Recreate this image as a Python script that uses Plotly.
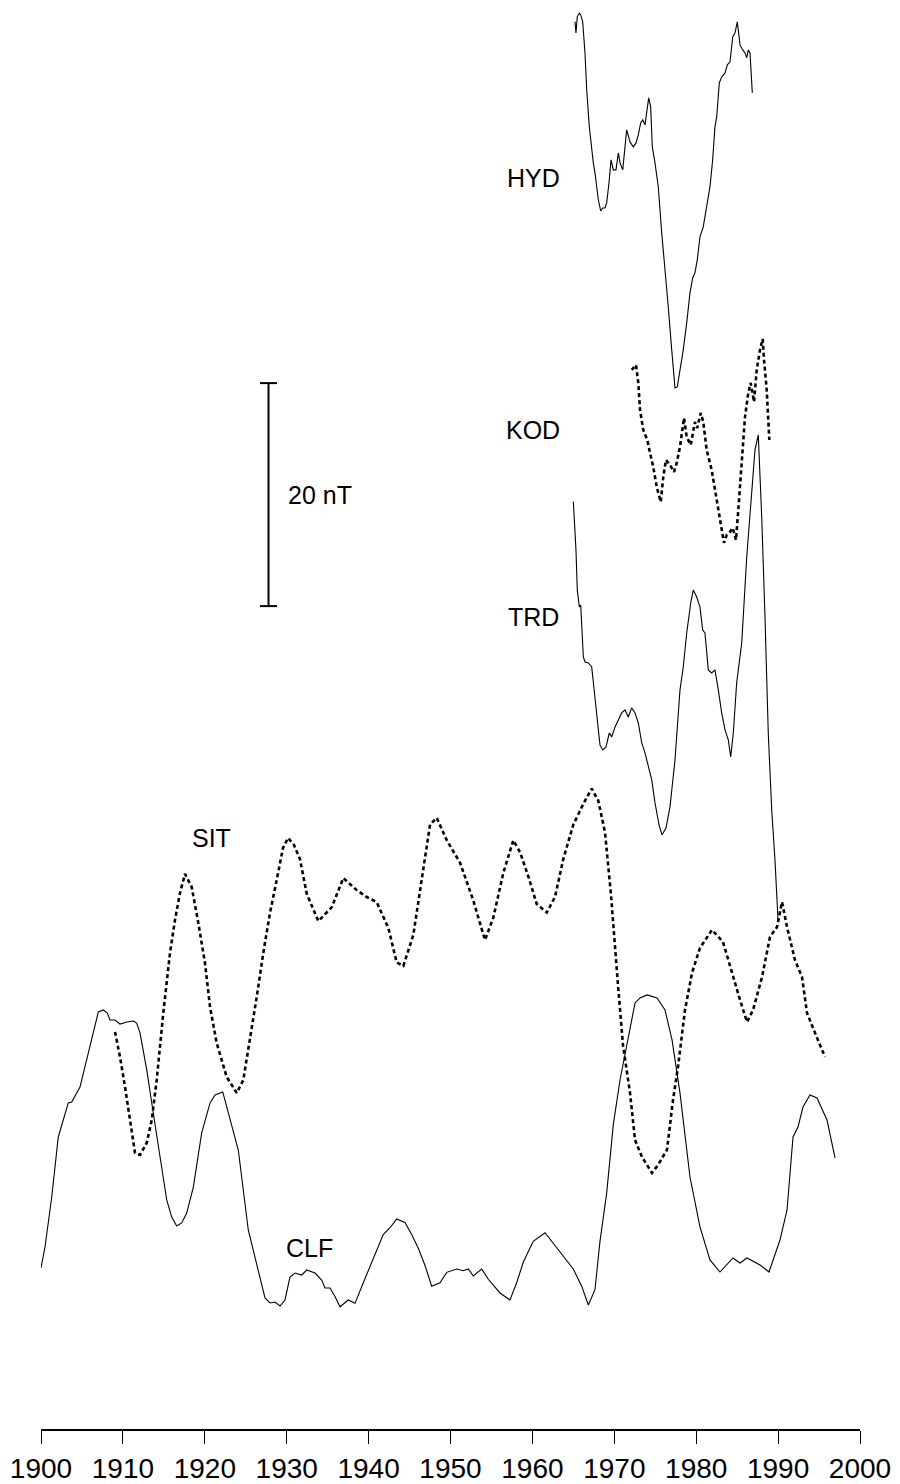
import plotly.graph_objects as go

# ---------------- data (years, offset field values in nT) ----------------
clf_year = [1900.00, 1900.49, 1901.31, 1902.11, 1903.33, 1903.75, 1904.76, 1905.98, 1906.59, 1907.00,
            1907.61, 1908.10, 1908.42, 1909.04, 1909.65, 1910.46, 1911.27, 1911.68, 1912.09, 1912.91,
            1913.71, 1914.53, 1915.35, 1915.96, 1916.57, 1917.18, 1917.79, 1918.60, 1919.62, 1920.64,
            1921.25, 1922.19, 1923.08, 1924.09, 1925.31, 1926.53, 1927.35, 1927.96, 1928.57, 1929.18,
            1929.79, 1930.40, 1931.01, 1931.83, 1932.44, 1933.46, 1934.27, 1934.68, 1935.29, 1935.90,
            1936.51, 1937.52, 1938.34, 1939.35, 1940.57, 1941.79, 1942.61, 1943.43, 1944.44, 1945.26,
            1946.07, 1946.89, 1947.70, 1948.72, 1949.54, 1950.76, 1951.56, 1952.17, 1952.78, 1953.81,
            1954.62, 1956.04, 1957.26, 1958.08, 1958.89, 1960.11, 1961.54, 1962.55, 1963.77, 1964.99,
            1966.02, 1966.83, 1967.64, 1968.25, 1969.07, 1969.88, 1970.70, 1971.56, 1972.53, 1973.14,
            1974.00, 1975.22, 1976.19, 1977.05, 1978.02, 1979.24, 1980.46, 1981.68, 1982.90, 1984.49,
            1985.35, 1986.20, 1987.79, 1988.89, 1989.38, 1990.23, 1991.09, 1991.82, 1992.43, 1993.04,
            1993.89, 1994.75, 1995.97, 1996.95]
clf_nt = [14.44, 16.32, 20.81, 26.19, 29.24, 29.33, 30.67, 34.26, 36.06, 37.40,
          37.58, 37.31, 36.68, 36.68, 36.32, 36.50, 36.59, 36.41, 35.52, 32.20,
          28.34, 24.40, 20.54, 19.01, 18.21, 18.48, 19.37, 21.70, 26.55, 29.24,
          29.96, 30.23, 27.71, 25.02, 17.85, 14.26, 11.75, 11.30, 11.39, 11.03,
          11.57, 13.63, 13.99, 13.81, 14.26, 13.99, 13.36, 12.65, 12.65, 11.88,
          10.96, 11.57, 11.27, 13.12, 15.27, 17.44, 18.05, 18.83, 18.52, 17.44,
          16.21, 14.66, 12.81, 13.12, 14.05, 14.35, 14.20, 14.35, 13.73, 14.35,
          13.43, 12.20, 11.57, 13.12, 14.98, 16.83, 17.60, 16.66, 15.59, 14.35,
          12.81, 11.12, 12.49, 16.83, 21.15, 27.32, 31.30, 34.71, 38.21, 38.66,
          38.93, 38.66, 37.58, 34.89, 30.14, 22.60, 18.12, 15.16, 14.08, 15.34,
          14.89, 15.34, 14.71, 14.08, 15.16, 16.95, 19.64, 26.19, 27.09, 28.88,
          29.96, 29.69, 27.71, 24.31]

sit_year = [1909.04, 1909.65, 1910.26, 1910.87, 1911.48, 1912.09, 1912.91, 1913.52, 1914.13, 1914.93,
            1915.75, 1916.36, 1916.97, 1917.58, 1918.40, 1919.21, 1920.02, 1920.64, 1921.45, 1922.67,
            1923.90, 1924.70, 1925.52, 1926.34, 1927.14, 1927.96, 1928.78, 1929.55, 1930.16, 1930.89,
            1931.62, 1932.44, 1933.86, 1935.49, 1936.91, 1938.55, 1939.77, 1940.99, 1942.41, 1943.43,
            1944.24, 1945.46, 1946.48, 1947.50, 1948.32, 1949.54, 1951.16, 1952.78, 1954.21, 1955.23,
            1956.45, 1957.67, 1958.49, 1959.50, 1960.53, 1961.75, 1962.76, 1963.77, 1964.99, 1966.21,
            1967.24, 1968.04, 1968.86, 1969.60, 1970.45, 1971.06, 1971.92, 1972.53, 1973.38, 1974.60,
            1975.34, 1976.43, 1977.17, 1977.78, 1978.63, 1979.49, 1980.46, 1981.93, 1983.27, 1984.49,
            1985.35, 1986.20, 1986.94, 1988.04, 1989.01, 1989.87, 1990.48, 1991.09, 1992.06, 1992.92,
            1993.53, 1994.51, 1995.73]
sit_nt = [35.61, 33.36, 30.67, 27.71, 24.75, 24.58, 25.65, 27.71, 31.30, 37.31,
          42.69, 45.65, 48.07, 49.78, 48.61, 45.38, 41.80, 37.85, 34.62, 31.57,
          30.14, 31.30, 34.89, 38.75, 42.69, 46.28, 49.24, 52.11, 53.01, 52.38,
          51.12, 48.02, 45.55, 46.78, 49.41, 48.33, 47.71, 47.25, 44.93, 41.84,
          41.53, 44.31, 49.25, 54.19, 54.81, 52.80, 50.80, 47.40, 43.85, 45.86,
          49.87, 52.80, 51.73, 49.56, 47.09, 46.32, 47.71, 51.11, 54.19, 56.05,
          57.44, 56.35, 53.55, 47.89, 39.82, 34.44, 30.14, 25.92, 24.40, 22.96,
          23.68, 25.02, 29.51, 32.47, 37.58, 40.90, 43.14, 44.76, 43.68, 40.54,
          38.48, 36.50, 37.58, 40.54, 44.13, 45.02, 47.27, 45.02, 42.06, 40.54,
          37.31, 35.52, 33.36]

trd_year = [1965.00, 1965.32, 1965.48, 1965.73, 1965.90, 1966.06, 1966.22, 1966.42, 1966.83, 1967.24,
            1967.52, 1967.85, 1968.25, 1968.58, 1968.99, 1969.39, 1969.68, 1970.09, 1970.49, 1970.90,
            1971.31, 1971.71, 1972.12, 1972.53, 1972.93, 1973.35, 1973.75, 1974.15, 1974.57, 1974.97,
            1975.46, 1975.82, 1976.31, 1976.80, 1977.41, 1978.02, 1978.42, 1978.84, 1979.33, 1979.65,
            1980.06, 1980.46, 1980.79, 1981.07, 1981.48, 1981.89, 1982.29, 1982.70, 1983.11, 1983.52,
            1983.92, 1984.21, 1984.53, 1984.94, 1985.56, 1986.17, 1986.78, 1987.18, 1987.58, 1988.00,
            1988.40, 1988.80, 1989.22, 1989.62, 1989.99]
trd_nt = [83.17, 78.84, 75.25, 73.73, 73.90, 71.39, 69.24, 68.79, 68.70, 68.34,
          66.28, 63.86, 61.35, 60.90, 61.17, 62.42, 62.07, 62.96, 63.59, 64.22,
          64.49, 63.86, 64.67, 64.22, 63.32, 61.53, 60.63, 59.37, 58.21, 56.15,
          54.17, 53.28, 53.90, 55.79, 60.00, 66.28, 68.34, 71.39, 74.08, 75.25,
          74.62, 73.73, 71.66, 71.39, 68.08, 67.81, 68.08, 66.28, 64.22, 62.69,
          61.80, 60.27, 62.42, 66.91, 70.50, 78.21, 84.22, 87.81, 89.15, 81.80,
          72.83, 62.42, 55.52, 51.03, 45.65]

kod_year = [1972.12, 1972.65, 1972.93, 1973.14, 1973.54, 1974.03, 1974.36, 1974.76, 1975.18, 1975.67,
            1975.98, 1976.31, 1976.80, 1977.29, 1977.62, 1978.02, 1978.51, 1978.84, 1979.33, 1979.85,
            1980.13, 1980.55, 1980.86, 1981.28, 1981.89, 1982.29, 1982.70, 1983.11, 1983.39, 1983.72,
            1984.13, 1984.46, 1984.86, 1985.14, 1985.56, 1985.96, 1986.36, 1986.65, 1987.06, 1987.39,
            1987.79, 1988.12, 1988.28, 1988.61, 1988.93]
kod_nt = [94.98, 95.43, 93.82, 91.39, 89.60, 88.70, 87.54, 86.28, 84.49, 83.14,
          85.38, 86.91, 86.46, 85.83, 86.64, 88.08, 90.68, 88.97, 88.25, 90.32,
          89.78, 91.12, 90.32, 87.81, 86.01, 84.22, 82.69, 80.81, 79.47, 80.18,
          80.45, 80.81, 79.73, 82.43, 86.28, 90.77, 92.92, 93.82, 92.11, 94.98,
          96.78, 97.76, 95.88, 93.19, 88.70]

hyd_year = [1965.20, 1965.32, 1965.48, 1965.73, 1965.90, 1966.14, 1966.42, 1966.63, 1966.95, 1967.24,
            1967.44, 1967.64, 1967.85, 1968.05, 1968.34, 1968.58, 1968.86, 1969.07, 1969.35, 1969.60,
            1969.88, 1970.21, 1970.49, 1970.70, 1971.03, 1971.31, 1971.51, 1971.92, 1972.32, 1972.65,
            1972.93, 1973.22, 1973.47, 1973.75, 1973.96, 1974.20, 1974.44, 1974.64, 1974.97, 1975.37,
            1975.79, 1976.19, 1976.59, 1977.01, 1977.41, 1977.69, 1978.02, 1978.42, 1978.84, 1979.24,
            1979.57, 1979.85, 1980.13, 1980.46, 1980.86, 1981.28, 1981.68, 1982.01, 1982.29, 1982.50,
            1982.82, 1983.11, 1983.52, 1983.80, 1984.13, 1984.46, 1984.74, 1985.02, 1985.35, 1985.68,
            1985.96, 1986.17, 1986.36, 1986.57, 1986.85]
hyd_nt = [126.22, 125.21, 126.67, 126.98, 126.82, 126.22, 123.41, 120.09, 116.78, 114.44,
          113.55, 112.65, 111.39, 110.23, 109.24, 109.51, 109.51, 109.96, 111.75, 113.82,
          112.92, 112.92, 114.44, 113.55, 112.92, 115.34, 116.51, 115.43, 114.98, 115.34,
          116.06, 117.14, 117.40, 116.96, 118.30, 119.38, 118.57, 114.98, 113.55, 111.39,
          107.27, 104.22, 100.63, 96.78, 93.37, 93.46, 94.98, 96.78, 99.20, 101.89,
          103.23, 103.68, 104.85, 106.91, 107.81, 109.60, 111.39, 113.82, 116.78, 117.67,
          120.72, 121.26, 121.62, 122.34, 122.61, 124.85, 125.21, 126.20, 124.13, 123.68,
          123.41, 122.97, 123.68, 123.41, 119.83]

station_labels = ["HYD", "KOD", "TRD", "SIT", "CLF"]
label_year = [1960.1, 1960.1, 1960.1, 1920.8, 1932.8]
label_nt = [112.2, 89.6, 72.8, 53.0, 16.2]

tick_years = [1900, 1910, 1920, 1930, 1940, 1950, 1960, 1970, 1980, 1990, 2000]

scale_year = 1927.78
scale_bottom, scale_top = 73.8, 93.8
scale_text = "20 nT"

# ---------------- figure ----------------
FONT = "Arial, 'Liberation Sans', Helvetica, sans-serif"
fig = go.Figure()

solid = dict(color="black", width=1.1)
dotted = dict(color="black", width=2.6, dash="4px,3px")

fig.add_trace(go.Scatter(x=clf_year, y=clf_nt, mode="lines", line=solid, name="CLF"))
fig.add_trace(go.Scatter(x=sit_year, y=sit_nt, mode="lines", line=dotted, name="SIT"))
fig.add_trace(go.Scatter(x=trd_year, y=trd_nt, mode="lines", line=solid, name="TRD"))
fig.add_trace(go.Scatter(x=kod_year, y=kod_nt, mode="lines", line=dotted, name="KOD"))
fig.add_trace(go.Scatter(x=hyd_year, y=hyd_nt, mode="lines", line=solid, name="HYD"))

for txt, xv, yv in zip(station_labels, label_year, label_nt):
    fig.add_annotation(x=xv, y=yv, text=txt, showarrow=False,
                       font=dict(family=FONT, size=25, color="black"),
                       xanchor="center", yanchor="middle")

# scale bar
cap = 1.04
fig.add_shape(type="line", x0=scale_year, x1=scale_year, y0=scale_bottom, y1=scale_top,
              xref="x", yref="y", line=dict(color="black", width=2))
for yv in (scale_bottom, scale_top):
    fig.add_shape(type="line", x0=scale_year - cap, x1=scale_year + cap, y0=yv, y1=yv,
                  xref="x", yref="y", line=dict(color="black", width=2))
fig.add_annotation(x=scale_year + 2.1, y=(scale_bottom + scale_top) / 2, text=scale_text,
                   showarrow=False, xanchor="left", yanchor="middle",
                   font=dict(family=FONT, size=25, color="black"))

# page body adds an 8 px margin, so the figure is 8 px smaller on each axis
fig.update_layout(
    width=892, height=1476,
    margin=dict(l=33, r=40, t=0, b=55),
    paper_bgcolor="white", plot_bgcolor="white",
    showlegend=False,
    font=dict(family=FONT, color="black"),
)
fig.update_xaxes(range=[1900, 2000], tickvals=tick_years, ticktext=[str(t) for t in tick_years],
                 showgrid=False, zeroline=False, showline=True, linecolor="black", linewidth=2,
                 ticks="outside", ticklen=13, tickwidth=1.3, tickcolor="black",
                 tickfont=dict(family=FONT, size=28, color="black"), automargin=False)
fig.update_yaxes(range=[0, 127.44], visible=False, showgrid=False, zeroline=False)

fig.write_html("out.html")
